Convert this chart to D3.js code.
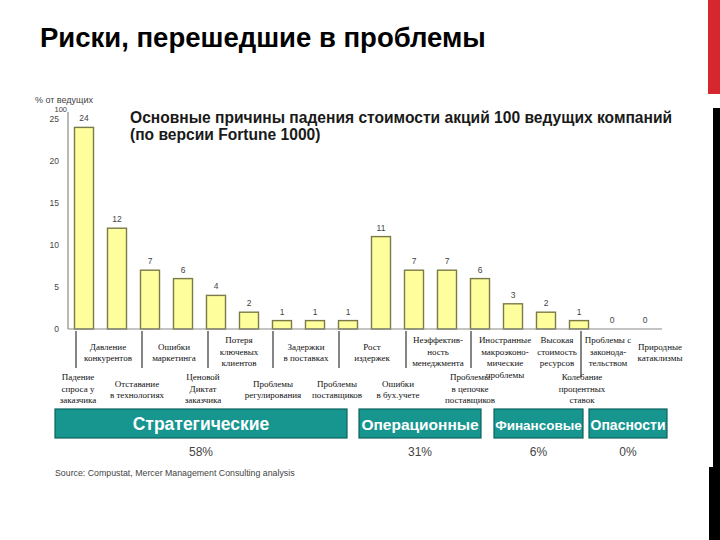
<!DOCTYPE html>
<html><head><meta charset="utf-8">
<script src="https://cdn.jsdelivr.net/npm/d3@7"></script>
<style>
html,body{margin:0;padding:0;background:#fff;}
svg{display:block;}
</style>
</head><body>
<svg id="chart" width="720" height="540"></svg>
<script>
// ---- data ----
const categories = [
  "Падение\nспроса у\nзаказчика",
  "Давление\nконкурентов",
  "Отставание\nв технологиях",
  "Ошибки\nмаркетинга",
  "Ценовой\nДиктат\nзаказчика",
  "Потеря\nключевых\nклиентов",
  "Проблемы\nрегулирования",
  "Задержки\nв поставках",
  "Проблемы\nпоставщиков",
  "Рост\nиздержек",
  "Ошибки\nв бух.учете",
  "Неэффектив-\nность\nменеджмента",
  "Проблемы\nв цепочке\nпоставщиков",
  "Иностранные\nмакроэконо-\nмические\nпроблемы",
  "Высокая\nстоимость\nресурсов",
  "Колебание\nпроцентных\nставок",
  "Проблемы с\nзаконода-\nтельством",
  "Природные\nкатаклизмы"
];
const values = [24, 12, 7, 6, 4, 2, 1, 1, 1, 11, 7, 7, 6, 3, 2, 1, 0, 0];
const groups = ["Стратегические", "Операционные", "Финансовые", "Опасности"];
const groupShares = ["58%", "31%", "6%", "0%"];
const groupOf = [0,0,0,0,0,0,0,0,0, 1,1,1,1, 2,2,2, 3,3];
const yTicks = [0, 5, 10, 15, 20, 25];
const pageTitle = "Риски, перешедшие в проблемы";
const chartTitle = ["Основные причины падения стоимости акций 100 ведущих компаний", "(по версии Fortune 1000)"];
const yLabel = "% от ведущих";
const yLabel2 = "100";
const sourceText = "Source: Compustat, Mercer Management Consulting analysis";

// ---- layout (positions only) ----
const labelRow   = [1,0,1,0,1,0,1,0,1,0,1,0,1,0,0,1,0,0];
const labelShift = [-6,-9,-13,-9,-13,-10,-9,-9,-11,-9,-16,-9,-10,-8,11,3,-4,15];
const sepShift   = [-8,null,-8,null,-8,null,-9,null,-9,null,-8,null,-9,null,null,2,null,null];
const groupBoxAdjust = [[-12.5,-17.5],[-5.5,-15.5],[-2.5,-12.5],[-6.5,5.5]];

const svg = d3.select("#chart");

// decorative slide edge
svg.append("rect").attr("x",708).attr("y",0).attr("width",12).attr("height",94).attr("fill","#d5272d");
svg.append("rect").attr("x",713).attr("y",108).attr("width",7).attr("height",359).attr("fill","#000");
svg.append("rect").attr("x",709).attr("y",467).attr("width",11).attr("height",73).attr("fill","#000");

// page title
svg.append("text").attr("x",40).attr("y",47)
  .attr("font-family","'Liberation Sans', Arial, sans-serif").attr("font-weight","bold")
  .attr("font-size",27.5).attr("fill","#000").text(pageTitle);

// scales
const x = d3.scaleBand().domain(d3.range(categories.length))
  .range([67.5, 661.5]).paddingInner(0.424).paddingOuter(0.212);
const y = d3.scaleLinear().domain([0, 25]).range([329, 119]);
const halfGap = x.step() * x.paddingInner() / 2;
const cx = i => x(i) + x.bandwidth() / 2;

// chart title
chartTitle.forEach((t, k) => {
  svg.append("text").attr("x",130).attr("y",123 + k*17)
    .attr("font-family","'Liberation Sans', Arial, sans-serif").attr("font-weight","bold")
    .attr("font-size",15.6).attr("fill","#1a1a1a").text(t);
});

// y axis
const yAxis = svg.append("g").attr("transform","translate(68,0)")
  .call(d3.axisLeft(y).tickValues(yTicks).tickSize(0).tickPadding(9));
yAxis.select(".domain").remove();
yAxis.selectAll("text").attr("font-family","'Liberation Sans', Arial, sans-serif")
  .attr("font-size",8.5).attr("fill","#444");
svg.append("line").attr("x1",68).attr("x2",68).attr("y1",y(0)).attr("y2",112)
  .attr("stroke","#8a8a8a").attr("stroke-width",1.2);
svg.append("text").attr("x",93).attr("y",102.5).attr("text-anchor","end")
  .attr("font-family","'Liberation Sans', Arial, sans-serif").attr("font-size",9).attr("fill","#444").text(yLabel);
svg.append("text").attr("x",67).attr("y",111.5).attr("text-anchor","end")
  .attr("font-family","'Liberation Sans', Arial, sans-serif").attr("font-size",7.5).attr("fill","#444").text(yLabel2);

// bars
svg.append("g").selectAll("rect").data(values).join("rect")
  .attr("x",(d,i)=>x(i)).attr("width",x.bandwidth())
  .attr("y",d=>y(d)).attr("height",d=>y(0)-y(d))
  .attr("fill","#fefe9c").attr("stroke","#7a7a48").attr("stroke-width",1.4);

// value labels
svg.append("g").selectAll("text").data(values).join("text")
  .attr("x",(d,i)=>cx(i)).attr("y",d=>y(d)-6).attr("text-anchor","middle")
  .attr("font-family","'Liberation Sans', Arial, sans-serif").attr("font-size",8.5)
  .attr("fill","#444").text(d=>d);

// baseline
svg.append("line").attr("x1",68).attr("x2",662).attr("y1",y(0)).attr("y2",y(0))
  .attr("stroke","#8a8a8a").attr("stroke-width",1.2);

// separators
sepShift.forEach((s,i)=>{
  if (s === null) return;
  svg.append("line").attr("x1",cx(i)+s).attr("x2",cx(i)+s)
    .attr("y1",331).attr("y2", i === 15 ? 377 : 368)
    .attr("stroke","#444").attr("stroke-width",1.3);
});

// category labels
const lh = 11.5;
categories.forEach((c,i)=>{
  const lines = c.split("\n");
  const top = labelRow[i] === 0 ? 340 : 377;
  const start = top + (lines.length === 2 ? 6.5 : 0);
  const t = svg.append("text").attr("text-anchor","middle")
    .attr("font-family","'Liberation Serif', 'Times New Roman', serif").attr("font-size",9)
    .attr("fill","#111");
  lines.forEach((ln,k)=>{
    t.append("tspan").attr("x",cx(i)+labelShift[i]).attr("y",start + k*lh + 3).text(ln);
  });
});

// group boxes
groups.forEach((g,gi)=>{
  const idx = d3.range(categories.length).filter(i=>groupOf[i]===gi);
  const x0 = x(idx[0]) - halfGap + groupBoxAdjust[gi][0];
  const x1 = x(idx[idx.length-1]) + x.bandwidth() + halfGap + groupBoxAdjust[gi][1];
  svg.append("rect").attr("x",x0).attr("y",409).attr("width",x1-x0).attr("height",29)
    .attr("fill","#16968f").attr("stroke","#0c625e").attr("stroke-width",1.2);
  let fs = 17.5;
  const t = svg.append("text").attr("x",(x0+x1)/2).attr("y",430).attr("text-anchor","middle")
    .attr("font-family","'Liberation Sans', Arial, sans-serif").attr("font-weight","bold")
    .attr("font-size",fs).attr("fill","#fff").text(g);
  while (t.node().getComputedTextLength() > (x1-x0) - 2 && fs > 8) {
    fs -= 0.5; t.attr("font-size",fs);
  }
  svg.append("text").attr("x",(x0+x1)/2).attr("y",456).attr("text-anchor","middle")
    .attr("font-family","'Liberation Sans', Arial, sans-serif").attr("font-size",12)
    .attr("fill","#444").text(groupShares[gi]);
});

// source
svg.append("text").attr("x",55).attr("y",476)
  .attr("font-family","'Liberation Sans', Arial, sans-serif").attr("font-size",8.8)
  .attr("fill","#444").text(sourceText);
</script>
</body></html>
